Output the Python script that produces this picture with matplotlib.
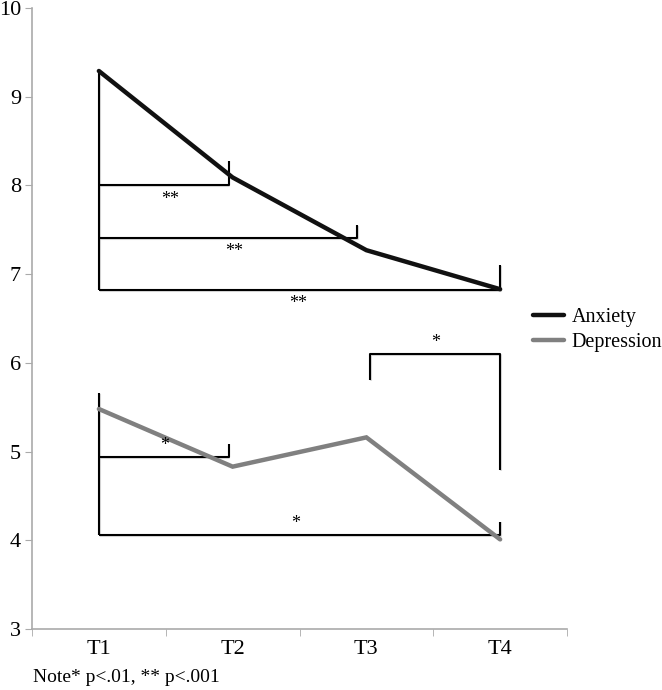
import matplotlib
matplotlib.use("Agg")
import matplotlib.pyplot as plt
import matplotlib.patheffects as pe

# ---- data ----
categories = ["T1", "T2", "T3", "T4"]
anxiety = [9.29, 8.09, 7.27, 6.83]
depression = [5.48, 4.83, 5.16, 4.01]

# significance brackets
anx_brackets_x_end = [0.97, 1.93, 3.0]
anx_brackets_y = [8.0, 7.41, 6.82]
anx_brackets_tick = [8.28, 7.55, 7.10]
anx_labels = ["**", "**", "**"]
anx_label_x = [0.53, 1.01, 1.49]
anx_label_y = [7.84, 7.25, 6.67]
anx_vert = (9.29, 6.82)

dep_brackets_x_end = [0.97, 3.0]
dep_brackets_y = [4.94, 4.06]
dep_brackets_tick = [5.08, 4.21]
dep_labels = ["*", "*"]
dep_label_x = [0.49, 1.47]
dep_label_y = [5.07, 4.19]
dep_vert = (5.66, 4.06)

# T3-T4 bracket
t34_x = [2.03, 3.0]
t34_y_top = 6.10
t34_left_low = 5.81
t34_right_low = 4.79
t34_label = "*"
t34_label_pos = (2.52, 6.23)

note = "Note* p<.01, ** p<.001"

# ---- figure ----
plt.rcParams['font.family'] = ['Liberation Serif', 'DejaVu Serif']
fig = plt.figure(figsize=(6.62, 6.90), dpi=100)
ax = fig.add_axes([32/662, 1-629/690, (567-32)/662, (629-8)/690])

x = list(range(len(categories)))
ax.plot(x, anxiety, color="#111111", lw=3.2, solid_capstyle="round", solid_joinstyle="miter", label="Anxiety", zorder=3)
ax.plot(x, depression, color="#808080", lw=3.2, solid_capstyle="round", solid_joinstyle="miter", label="Depression", zorder=3)

shadow = [pe.SimpleLineShadow(offset=(0.6, -0.6), shadow_color="#bbbbbb", alpha=0.5), pe.Normal()]
bkw = dict(color="black", lw=1.5, zorder=2, path_effects=shadow, solid_capstyle="butt")

# anxiety brackets
ax.plot([0, 0], list(anx_vert), **bkw)
for xe, yl, yt, lab, lx, ly in zip(anx_brackets_x_end, anx_brackets_y, anx_brackets_tick,
                                   anx_labels, anx_label_x, anx_label_y):
    ax.plot([0, xe, xe], [yl, yl, yt], **bkw)
    ax.text(lx, ly, lab, ha="center", va="center", fontsize=13)

# depression brackets
ax.plot([0, 0], list(dep_vert), **bkw)
for xe, yl, yt, lab, lx, ly in zip(dep_brackets_x_end, dep_brackets_y, dep_brackets_tick,
                                   dep_labels, dep_label_x, dep_label_y):
    ax.plot([0, xe, xe], [yl, yl, yt], **bkw)
    ax.text(lx, ly, lab, ha="center", va="center", fontsize=13)

ax.plot([t34_x[0], t34_x[0], t34_x[1], t34_x[1]],
        [t34_left_low, t34_y_top, t34_y_top, t34_right_low], **bkw)
ax.text(t34_label_pos[0], t34_label_pos[1], t34_label, ha="center", va="center", fontsize=13)

# axes styling
ax.set_xlim(-0.5, len(categories) - 0.5)
ax.set_ylim(3, 10)
ax.set_yticks(range(3, 11))
ax.set_xticks(x)
ax.set_xticklabels(categories)
ax.set_xticks([i - 0.5 for i in range(len(categories) + 1)], minor=True)
ax.tick_params(axis="x", which="major", length=0, pad=8, labelsize=16)
ax.tick_params(axis="x", which="minor", length=5, color="#aaaaaa", direction="out")
ax.tick_params(axis="y", length=5, color="#aaaaaa", labelsize=16, pad=3)
for s in ["top", "right"]:
    ax.spines[s].set_visible(False)
for s in ["left", "bottom"]:
    ax.spines[s].set_color("#aaaaaa")
    ax.spines[s].set_linewidth(1.2)

leg = ax.legend(loc="upper left", bbox_to_anchor=(0.937, 0.517), frameon=False,
                fontsize=14.5, handlelength=1.5, handletextpad=0.4, labelspacing=0.3,
                borderaxespad=0, borderpad=0)

fig.text(33/662, 1-678/690, note, fontsize=14, ha="left", va="center")

fig.savefig("out.png", dpi=100)
